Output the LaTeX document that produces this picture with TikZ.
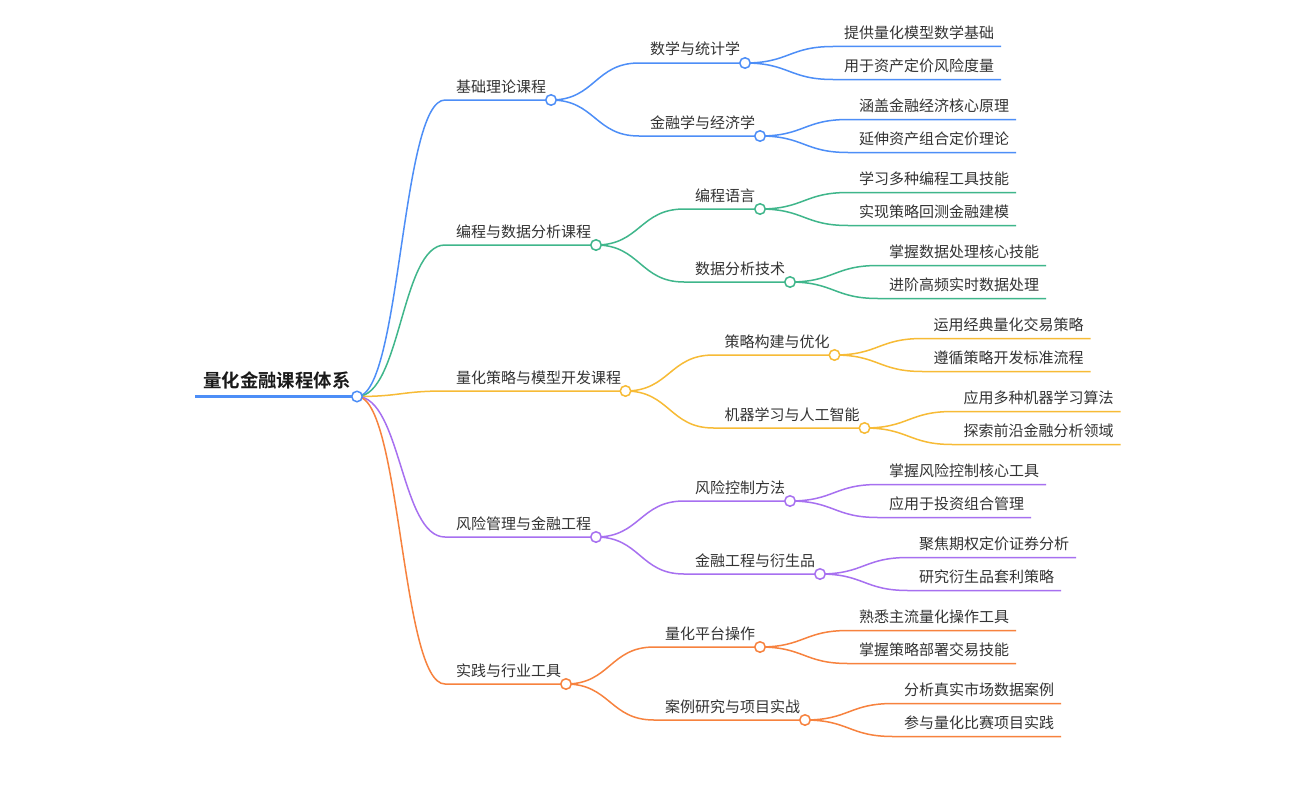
\documentclass[tikz,border=0pt]{standalone}
\usepackage{fontspec}
\newfontfamily\cjk{Noto Sans CJK SC}
\newfontfamily\cjkb{Noto Sans CJK SC Bold}
\definecolor{cblue}{HTML}{4D8EF7}
\definecolor{cgreen}{HTML}{3FB68B}
\definecolor{cyellow}{HTML}{F7BB36}
\definecolor{cpurple}{HTML}{A770F0}
\definecolor{corange}{HTML}{F7823E}
\definecolor{ctext}{HTML}{333333}
\colorlet{cur}{cblue}
\tikzset{
  lbl/.style={inner sep=0pt, text=ctext, font=\cjk\fontsize{15}{18}\selectfont},
  link/.style={draw=cur, line width=1.5pt},
  dot/.style={circle, draw=cur, fill=white, line width=1.5pt, minimum size=10.5pt, inner sep=0pt},
}
% #1 name, #2 parent, #3 text left x, #4 y, #5 right x, #6 text
\newcommand{\mmnode}[6]{%
  \coordinate (#1-s) at (#3-11,#4);
  \coordinate (#1-e) at (#5,#4);
  \node[lbl, anchor=base west] (#1) at (#3,#4-8) {#6};
  \draw[link] (#2-e) .. controls +(44,0) and +(-44,0) .. (#1-s) -- (#1-e);
}
\newcommand{\mmdot}[1]{\node[dot] (#1-c) at (#1-e) {};}
\begin{document}
\begin{tikzpicture}[x=1pt,y=-1pt]
\useasboundingbox[fill=white] (0,0) rectangle (1313,784);
% root
\coordinate (r-s) at (195,396.5);
\coordinate (r-e) at (357,396.5);
\node[inner sep=0pt, anchor=base west, text=black!90, font=\cjkb\fontsize{18.4}{22}\selectfont] (r) at (203,387) {量化金融课程体系};
\draw[cblue, line width=3pt] (r-s) -- (r-e);

% branch A
\colorlet{cur}{cblue}
\mmnode{A}{r}{456}{100}{551}{基础理论课程}
\mmnode{A1}{A}{650}{63}{745}{数学与统计学}
\mmnode{A2}{A}{650}{136}{760}{金融学与经济学}
\mmnode{A11}{A1}{844}{46.5}{1001}{提供量化模型数学基础}
\mmnode{A12}{A1}{844}{79.5}{1001}{用于资产定价风险度量}
\mmnode{A21}{A2}{859}{119.5}{1016}{涵盖金融经济核心原理}
\mmnode{A22}{A2}{859}{152.5}{1016}{延伸资产组合定价理论}
\mmdot{A}\mmdot{A1}\mmdot{A2}

% branch B
\colorlet{cur}{cgreen}
\mmnode{B}{r}{456}{245}{596}{编程与数据分析课程}
\mmnode{B1}{B}{695}{209}{760}{编程语言}
\mmnode{B2}{B}{695}{282}{790}{数据分析技术}
\mmnode{B11}{B1}{859}{192.5}{1016}{学习多种编程工具技能}
\mmnode{B12}{B1}{859}{225.5}{1016}{实现策略回测金融建模}
\mmnode{B21}{B2}{889}{265.5}{1046}{掌握数据处理核心技能}
\mmnode{B22}{B2}{889}{298.5}{1046}{进阶高频实时数据处理}
\mmdot{B}\mmdot{B1}\mmdot{B2}

% branch C
\colorlet{cur}{cyellow}
\mmnode{C}{r}{456}{391}{625.5}{量化策略与模型开发课程}
\mmnode{C1}{C}{724.5}{355}{834.5}{策略构建与优化}
\mmnode{C2}{C}{724.5}{428}{864.5}{机器学习与人工智能}
\mmnode{C11}{C1}{933.5}{338.5}{1090.5}{运用经典量化交易策略}
\mmnode{C12}{C1}{933.5}{371.5}{1090.5}{遵循策略开发标准流程}
\mmnode{C21}{C2}{963.5}{411.5}{1120.5}{应用多种机器学习算法}
\mmnode{C22}{C2}{963.5}{444.5}{1120.5}{探索前沿金融分析领域}
\mmdot{C}\mmdot{C1}\mmdot{C2}

% branch D
\colorlet{cur}{cpurple}
\mmnode{D}{r}{456}{537}{596}{风险管理与金融工程}
\mmnode{D1}{D}{695}{501}{790}{风险控制方法}
\mmnode{D2}{D}{695}{574}{820}{金融工程与衍生品}
\mmnode{D11}{D1}{889}{484.5}{1046}{掌握风险控制核心工具}
\mmnode{D12}{D1}{889}{517.5}{1031}{应用于投资组合管理}
\mmnode{D21}{D2}{919}{557.5}{1076}{聚焦期权定价证券分析}
\mmnode{D22}{D2}{919}{590.5}{1061}{研究衍生品套利策略}
\mmdot{D}\mmdot{D1}\mmdot{D2}

% branch E
\colorlet{cur}{corange}
\mmnode{E}{r}{456}{684}{566}{实践与行业工具}
\mmnode{E1}{E}{665}{647}{760}{量化平台操作}
\mmnode{E2}{E}{665}{720}{805}{案例研究与项目实战}
\mmnode{E11}{E1}{859}{630.5}{1016}{熟悉主流量化操作工具}
\mmnode{E12}{E1}{859}{663.5}{1016}{掌握策略部署交易技能}
\mmnode{E21}{E2}{904}{703.5}{1061}{分析真实市场数据案例}
\mmnode{E22}{E2}{904}{736.5}{1061}{参与量化比赛项目实践}
\mmdot{E}\mmdot{E1}\mmdot{E2}

% root dot
\node[dot, draw=cblue] (r-c) at (r-e) {};
\end{tikzpicture}
\end{document}
